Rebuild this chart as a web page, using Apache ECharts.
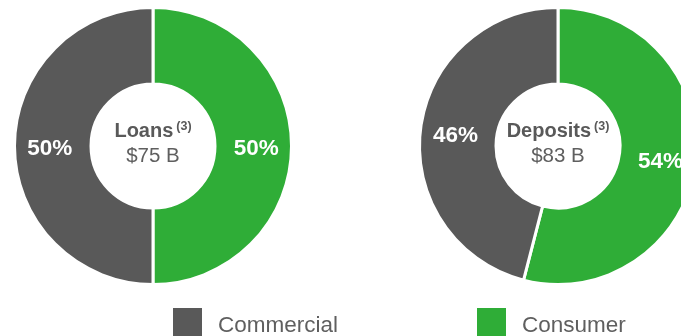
<!DOCTYPE html>
<html>
<head>
<meta charset="utf-8">
<script src="https://cdn.jsdelivr.net/npm/echarts@6/dist/echarts.min.js"></script>
<style>
html,body{margin:0;padding:0;background:#fff;}
#main{width:681px;height:336px;}
</style>
</head>
<body>
<div id="main"></div>
<script>
const categories = ['Commercial', 'Consumer'];
const loansValues = [50, 50];
const depositsValues = [46, 54];
const pieTitles = ['Loans', 'Deposits'];
const pieTotals = ['$75 B', '$83 B'];
const footnote = '(3)';

const colors = { 'Commercial': '#595959', 'Consumer': '#2FAD37' };
const FONT = '"Liberation Sans", Arial, sans-serif';

function pieData(values) {
  // Consumer drawn first (clockwise from 12 o'clock), then Commercial
  const order = [1, 0];
  return order.map(i => ({
    name: categories[i],
    value: values[i],
    itemStyle: { color: colors[categories[i]] }
  }));
}

function pieSeries(values, cx) {
  return {
    type: 'pie',
    center: [cx, 146],
    radius: [62, 138.5],
    startAngle: 90,
    clockwise: true,
    silent: true,
    avoidLabelOverlap: false,
    itemStyle: { borderColor: '#ffffff', borderWidth: 3 },
    label: {
      show: true,
      position: 'inside',
      formatter: '{p|{d}%}',
      rich: {
        p: {
          color: '#ffffff',
          fontFamily: FONT,
          fontWeight: 'bold',
          fontSize: 22.5,
          padding: [5, 0, 0, 0]
        }
      }
    },
    labelLine: { show: false },
    data: pieData(values)
  };
}

function centerText(idx, cx) {
  return {
    type: 'text',
    x: cx,
    y: 119,
    style: {
      text: '{b|' + pieTitles[idx] + '}{s|' + footnote + '}\n{n|' + pieTotals[idx] + '}',
      textAlign: 'center',
      fill: '#595959',
      rich: {
        b: { fontFamily: FONT, fontWeight: 'bold', fontSize: 20, fill: '#595959', lineHeight: 25 },
        s: { fontFamily: FONT, fontWeight: 'bold', fontSize: 12.5, fill: '#595959', padding: [0, 0, 9, 3], lineHeight: 25 },
        n: { fontFamily: FONT, fontSize: 20.5, fill: '#5f5f5f', lineHeight: 25 }
      }
    }
  };
}

function legendFor(name, left) {
  return {
    data: [name],
    left: left, top: 308,
    padding: 0,
    icon: 'rect', itemWidth: 29, itemHeight: 29,
    itemStyle: { borderWidth: 0 },
    selectedMode: false,
    formatter: '{t|{name}}',
    textStyle: {
      rich: {
        t: { fontFamily: FONT, fontSize: 22.5, color: '#5f5f5f', padding: [7, 0, 0, 11] }
      }
    }
  };
}

const chart = echarts.init(document.getElementById('main'), null, { renderer: 'canvas' });
chart.setOption({
  animation: false,
  legend: [
    legendFor(categories[0], 173),
    legendFor(categories[1], 477)
  ],
  series: [
    pieSeries(loansValues, 153),
    pieSeries(depositsValues, 558)
  ],
  graphic: [
    centerText(0, 153),
    centerText(1, 558)
  ]
});
</script>
</body>
</html>
